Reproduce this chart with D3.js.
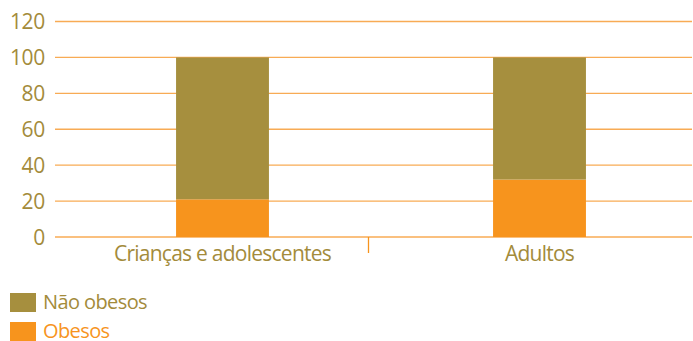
<!DOCTYPE html>
<html>
<head>
<meta charset="utf-8">
<script src="https://cdn.jsdelivr.net/npm/d3@7"></script>
<style>
  body { margin: 0; background: #fff; }
  text { font-family: "Open Sans", "Noto Sans", sans-serif; }
</style>
</head>
<body>
<div id="vis"></div>
<script>
// data
let categories = ['Crianças e adolescentes', 'Adultos']
let obesos = [21, 32]
let naoObesos = [79, 68]
let yTicks = [0, 20, 40, 60, 80, 100, 120]
let seriesNames = ['Não obesos', 'Obesos']

let width = 693, height = 341

let colOlive = '#a68f3e'
let colOrange = '#f7941d'
let colGrid = '#f8ab55'
let colText = '#a38b3b'

let svg = d3.select('#vis')
  .append('svg')
  .attr('width', width)
  .attr('height', height)

let x = d3.scaleBand()
  .domain(categories)
  .range([64, 698])
  .paddingInner(0.707)
  .paddingOuter(0.3535)

let y = d3.scaleLinear()
  .domain([0, 120])
  .range([237, 21.5])

// grid lines
svg.selectAll('.grid')
  .data(yTicks)
  .join('line')
  .attr('x1', 55)
  .attr('x2', 692)
  .attr('y1', d => y(d))
  .attr('y2', d => y(d))
  .attr('stroke', colGrid)
  .attr('stroke-width', 1.3)

// y labels
svg.selectAll('.ylab')
  .data(yTicks)
  .join('text')
  .attr('x', 45)
  .attr('y', d => y(d) + 7.5)
  .attr('text-anchor', 'end')
  .attr('fill', colText)
  .style('font-size', '21px')
  .style('letter-spacing', '-0.3px')
  .text(d => d)

// separator tick between the categories
svg.append('line')
  .attr('x1', 368.5).attr('x2', 368.5)
  .attr('y1', y(0)).attr('y2', 253)
  .attr('stroke', colOrange)
  .attr('stroke-width', 1.3)

let stacked = categories.map((c, i) => ({ cat: c, ob: obesos[i], nao: naoObesos[i] }))

// obese part
svg.selectAll('.ob')
  .data(stacked)
  .join('rect')
  .attr('x', d => x(d.cat))
  .attr('width', x.bandwidth())
  .attr('y', d => y(d.ob))
  .attr('height', d => y(0) - y(d.ob))
  .attr('fill', colOrange)

// non obese part
svg.selectAll('.nao')
  .data(stacked)
  .join('rect')
  .attr('x', d => x(d.cat))
  .attr('width', x.bandwidth())
  .attr('y', d => y(d.ob + d.nao))
  .attr('height', d => y(d.ob) - y(d.ob + d.nao))
  .attr('fill', colOlive)

// category labels
svg.selectAll('.xlab')
  .data(categories)
  .join('text')
  .attr('x', d => x(d) + x.bandwidth() / 2)
  .attr('y', 261)
  .attr('text-anchor', 'middle')
  .attr('fill', colText)
  .style('font-size', '21px')
  .style('letter-spacing', '-0.75px')
  .text(d => d)

// legend
let legColors = [colOlive, colOrange]
let legTextColors = [colText, colOrange]
let leg = svg.selectAll('.leg')
  .data(seriesNames)
  .join('g')
  .attr('transform', (d, i) => `translate(10,${293 + i * 29})`)

leg.append('rect')
  .attr('width', 26)
  .attr('height', 19)
  .attr('fill', (d, i) => legColors[i])

leg.append('text')
  .attr('x', 33)
  .attr('y', 16)
  .attr('fill', (d, i) => legTextColors[i])
  .style('font-size', '20px')
  .style('letter-spacing', '-0.6px')
  .text(d => d)
</script>
</body>
</html>
